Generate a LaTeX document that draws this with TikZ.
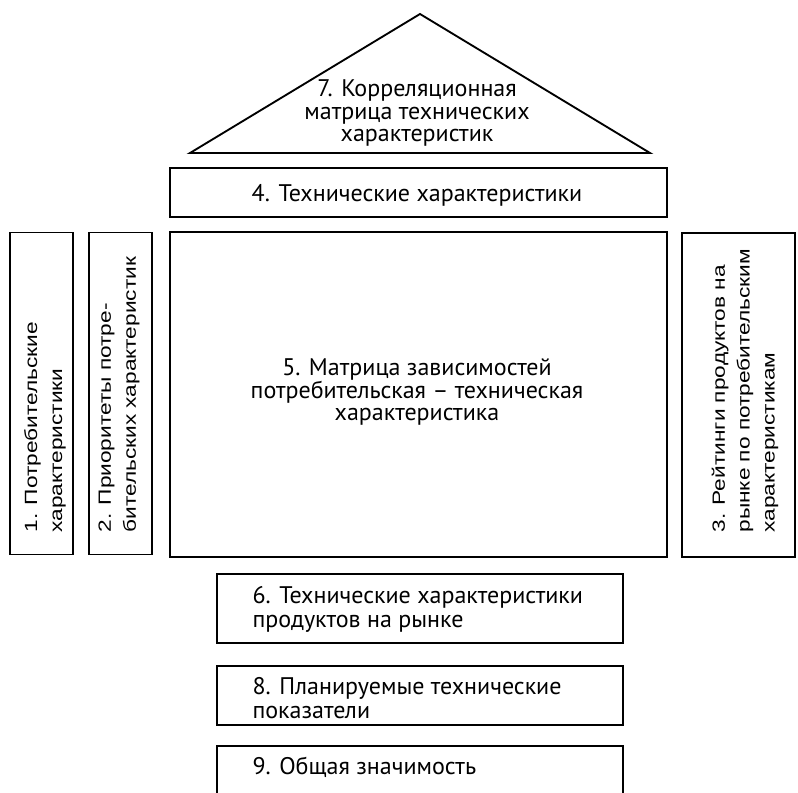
\documentclass[tikz,border=0pt]{standalone}
\usepackage{fontspec}
\setmainfont{PT Sans}
\newfontfamily\vertfont{Liberation Sans}
\tikzset{every picture/.style={line width=0.75pt}}
\tikzset{
  blockbox/.style={draw, line width=1.4pt, inner sep=0pt},
  blocktext/.style={inner sep=0.75pt, align=left, font=\fontsize{18}{18}\selectfont},
  blockvert/.style={inner sep=0.75pt, align=left, rotate=90, yscale=0.78, anchor=west, font=\vertfont\fontsize{17}{24}\selectfont},
}

\begin{document}
\begin{tikzpicture}[x=0.75pt,y=0.75pt,yscale=-1,xscale=1]
        \useasboundingbox (0,0) rectangle (798,792);

        %Shape: Triangle [id:roof]
        \draw [line width=1.4pt] (420,14) coordinate (apex) -- (650,153) coordinate (rbase) -- (190,153) coordinate (lbase) -- cycle ;
        % Text Node
        \node [blocktext, align=center, font=\fontsize{18}{17}\selectfont] (t7) at (417,113) {7. Корреляционная\\матрица технических\\характеристик};

        %Shape: Rectangle [id:box4]
        \node [blockbox, minimum width=372.75pt, minimum height=36.75pt] (b4) at (418.5,192.5) {};
        \node [blocktext] (t4) at (417,195) {4. Технические характеристики};

        %Shape: Rectangle [id:box1]
        \node [blockbox, minimum width=47.25pt, minimum height=241.5pt] (b1) at (41.5,393.5) {};
        \node [blockvert] (t1) at (45,534) {1. Потребительские\\характеристики};

        %Shape: Rectangle [id:box2]
        \node [blockbox, minimum width=47.25pt, minimum height=241.5pt] (b2) at (120.5,393.5) {};
        \node [blockvert] (t2) at (119,534) {2. Приоритеты потре-\\бительских характеристик};

        %Shape: Rectangle [id:box5]
        \node [blockbox, minimum width=372.75pt, minimum height=243.75pt] (b5) at (418.5,394.5) {};
        \node [blocktext, align=center, font=\fontsize{18}{16.5}\selectfont] (t5) at (417,392) {5. Матрица зависимостей\\потребительская -- техническая\\характеристика};

        %Shape: Rectangle [id:box3]
        \node [blockbox, minimum width=84.75pt, minimum height=243pt] (b3) at (738.5,395) {};
        \node [blockvert] (t3) at (745,534) {3. Рейтинги продуктов на\\рынке по потребительским\\характеристикам};

        %Shape: Rectangle [id:box6]
        \node [blockbox, minimum width=304.5pt, minimum height=51.75pt] (b6) at (420,608.5) {};
        \node [blocktext, anchor=west] (t6) at (251,609) {6. Технические характеристики\\продуктов на рынке};

        %Shape: Rectangle [id:box8]
        \node [blockbox, minimum width=304.5pt, minimum height=44.25pt] (b8) at (420,695.5) {};
        \node [blocktext, anchor=west] (t8) at (251,698) {8. Планируемые технические\\показатели};

        %Shape: Rectangle [id:box9]
        \node [blockbox, minimum width=304.5pt, minimum height=45pt] (b9) at (420,776) {};
        \node [blocktext, anchor=west] (t9) at (251,767) {9. Общая значимость};
\end{tikzpicture}
\end{document}
